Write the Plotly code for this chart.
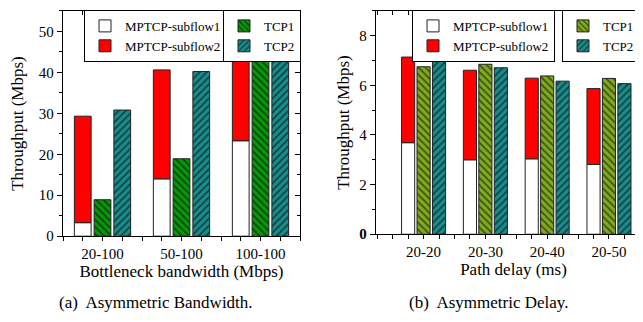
import plotly.graph_objects as go

# ---------------- data ----------------
bw_categories = ["20-100", "50-100", "100-100"]
bw_subflow1 = [3.3, 14.0, 23.3]
bw_subflow2 = [26.0, 26.6, 21.6]
bw_tcp1 = [8.9, 18.9, 43.7]
bw_tcp2 = [30.8, 40.2, 44.4]

dl_categories = ["20-20", "20-30", "20-40", "20-50"]
dl_subflow1 = [3.69, 3.0, 3.04, 2.81]
dl_subflow2 = [3.45, 3.61, 3.25, 3.06]
dl_tcp1 = [6.75, 6.85, 6.38, 6.28]
dl_tcp2 = [7.14, 6.71, 6.17, 6.07]

bw_yticks = [0, 10, 20, 30, 40, 50]
dl_yticks = [0, 2, 4, 6, 8]
dl_yticklabels = ["<b>0</b>", "2", "4", "6", "8"]

FONT = "Liberation Serif"
RED = "#ff0000"
GREEN = "#0a960a"
TEAL = "#1b8c8c"
YGREEN = "#80ab1f"
LINE = dict(color="#222222", width=1)

W, H = 643, 322


def px_x(p):
    return p / W


def px_y(p):
    return 1 - p / H


fig = go.Figure()

bx = list(range(len(bw_categories)))
dx = list(range(len(dl_categories)))


def add_panel(xs, s1, s2, t1, t2, tcp1_color, xa, ya, lg_a, lg_b):
    fig.add_trace(go.Bar(x=xs, y=s1, name="MPTCP-subflow1", offsetgroup="m",
                         marker=dict(color="white", line=LINE),
                         xaxis=xa, yaxis=ya, legend=lg_a))
    fig.add_trace(go.Bar(x=xs, y=s2, base=s1, name="MPTCP-subflow2", offsetgroup="m",
                         marker=dict(color=RED, line=LINE),
                         xaxis=xa, yaxis=ya, legend=lg_a))
    fig.add_trace(go.Bar(x=xs, y=t1, name="TCP1", offsetgroup="t1",
                         marker=dict(color=tcp1_color, line=LINE,
                                     pattern=dict(shape="\\", fgcolor="black", size=5, solidity=0.35)),
                         xaxis=xa, yaxis=ya, legend=lg_b))
    fig.add_trace(go.Bar(x=xs, y=t2, name="TCP2", offsetgroup="t2",
                         marker=dict(color=TEAL, line=LINE,
                                     pattern=dict(shape="/", fgcolor="black", size=5, solidity=0.35)),
                         xaxis=xa, yaxis=ya, legend=lg_b))


add_panel(bx, bw_subflow1, bw_subflow2, bw_tcp1, bw_tcp2, GREEN, "x", "y", "legend", "legend2")
add_panel(dx, dl_subflow1, dl_subflow2, dl_tcp1, dl_tcp2, YGREEN, "x2", "y2", "legend3", "legend4")

tickfont = dict(family=FONT, size=15, color="black")
titlefont = dict(family=FONT, size=17, color="black")

L_dom_x = [px_x(55), px_x(292)]
R_dom_x = [px_x(368), 1.0]
L_dom_y = [px_y(234), px_y(3)]
R_dom_y = [px_y(232), px_y(3)]

bw_xrange = [-0.5, len(bw_categories) - 0.5]
dl_xrange = [-0.77, len(dl_categories) - 0.32]
bw_yrange = [0, 55]
dl_yrange = [0, 9]

axis_common = dict(showgrid=False, zeroline=False, showline=True, linecolor="black",
                   linewidth=1.3, tickcolor="black", tickfont=tickfont)

fig.update_layout(
    width=W, height=H,
    margin=dict(l=0, r=0, t=0, b=0),
    paper_bgcolor="white", plot_bgcolor="white",
    barmode="group", bargap=0.25, bargroupgap=0.15,
    font=dict(family=FONT, color="black"),
    xaxis=dict(domain=L_dom_x, anchor="y", range=bw_xrange, tickmode="array",
               tickvals=bx, ticktext=bw_categories, ticks="outside", ticklen=4,
               minor=dict(dtick=0.25, tick0=-0.5, ticks="outside", ticklen=4, tickcolor="black"),
               title=dict(text="Bottleneck bandwidth (Mbps)", font=titlefont, standoff=0),
               **axis_common),
    yaxis=dict(domain=L_dom_y, anchor="x", range=bw_yrange, tickmode="array",
               tickvals=bw_yticks, ticks="outside", ticklen=5,
               minor=dict(dtick=5, ticks="outside", ticklen=3, tickcolor="black"),
               title=dict(text="Throughput (Mbps)", font=titlefont, standoff=12),
               **axis_common),
    xaxis3=dict(domain=L_dom_x, anchor="y3", overlaying="x", side="top", range=bw_xrange,
                tickmode="array", tickvals=bx, ticks="inside", ticklen=4, showticklabels=False,
                minor=dict(dtick=0.25, tick0=-0.5, ticks="inside", ticklen=4, tickcolor="black"),
                **axis_common),
    yaxis3=dict(domain=L_dom_y, anchor="x3", overlaying="y", side="right", range=bw_yrange,
                tickmode="array", tickvals=bw_yticks, ticks="inside", ticklen=5, showticklabels=False,
                minor=dict(dtick=5, ticks="inside", ticklen=3, tickcolor="black"),
                **axis_common),
    xaxis2=dict(domain=R_dom_x, anchor="y2", range=dl_xrange, tickmode="array",
                tickvals=dx, ticktext=dl_categories, ticks="outside", ticklen=4,
                minor=dict(dtick=0.25, tick0=-0.75, ticks="outside", ticklen=4, tickcolor="black"),
                title=dict(text="Path delay (ms)", font=titlefont, standoff=0),
                **axis_common),
    yaxis2=dict(domain=R_dom_y, anchor="x2", range=dl_yrange, tickmode="array",
                tickvals=dl_yticks, ticktext=dl_yticklabels, ticks="outside", ticklen=5,
                minor=dict(dtick=1, ticks="outside", ticklen=3, tickcolor="black"),
                title=dict(text="Throughput (Mbps)", font=titlefont, standoff=5),
                **axis_common),
    xaxis4=dict(domain=R_dom_x, anchor="y4", overlaying="x2", side="top", range=dl_xrange,
                tickmode="array", tickvals=dx, ticks="inside", ticklen=4, showticklabels=False,
                minor=dict(dtick=0.25, tick0=-0.75, ticks="inside", ticklen=4, tickcolor="black"),
                **axis_common),
    yaxis4=dict(domain=R_dom_y, anchor="x4", overlaying="y2", side="right", range=dl_yrange,
                showticklabels=False, ticks="", showline=False, showgrid=False, zeroline=False),
)

# invisible traces to keep overlay axes drawn
for xa, ya, xs in (("x3", "y3", bx), ("x4", "y4", dx)):
    fig.add_trace(go.Scatter(x=[xs[0]], y=[0], mode="markers", marker=dict(opacity=0),
                             showlegend=False, hoverinfo="skip", xaxis=xa, yaxis=ya))

legend_common = dict(bgcolor="white", bordercolor="black", borderwidth=1,
                     font=dict(family=FONT, size=13, color="black"),
                     orientation="v", yanchor="top", xanchor="left",
                     itemwidth=30, tracegroupgap=0, traceorder="normal")
fig.update_layout(
    legend=dict(x=px_x(76), y=px_y(2), **legend_common),
    legend2=dict(x=px_x(215), y=px_y(2), **legend_common),
    legend3=dict(x=px_x(404), y=px_y(2), **legend_common),
    legend4=dict(x=px_x(554), y=px_y(2), **legend_common),
)

fig.add_annotation(text="(a)  Asymmetric Bandwidth.", x=px_x(148), y=px_y(302),
                   xref="paper", yref="paper", xanchor="center", yanchor="middle",
                   showarrow=False, font=dict(family=FONT, size=17, color="black"))
fig.add_annotation(text="(b)  Asymmetric Delay.", x=px_x(480), y=px_y(302),
                   xref="paper", yref="paper", xanchor="center", yanchor="middle",
                   showarrow=False, font=dict(family=FONT, size=17, color="black"))

fig.write_html("out.html")
